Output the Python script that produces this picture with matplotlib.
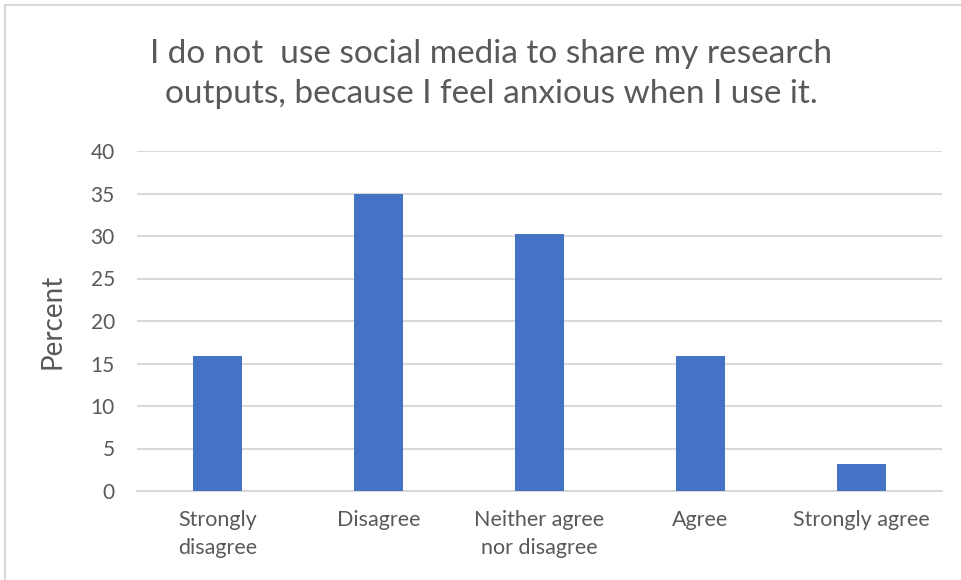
import matplotlib.pyplot as plt
import numpy as np
from matplotlib.patches import Rectangle

plt.rcParams['font.family'] = ['Lato', 'DejaVu Sans']

# Data
categories = ["Strongly\ndisagree", "Disagree", "Neither agree\nnor disagree", "Agree", "Strongly agree"]
percent = [15.9, 34.9, 30.2, 15.9, 3.2]
y_ticks = [0, 5, 10, 15, 20, 25, 30, 35, 40]

title = "I do not  use social media to share my research\noutputs, because I feel anxious when I use it."

text_color = '#595959'
bar_color = '#4472C4'
grid_color = '#d9d9d9'

fig = plt.figure(figsize=(9.61, 5.80), dpi=100)
fig.patch.set_facecolor('white')

# chart frame (partly visible in the reference)
fig.patches.append(Rectangle((5 / 961, -0.1), 1.2, 1 - 5 / 580 + 0.1, transform=fig.transFigure,
                             fill=False, edgecolor='#d9d9d9', linewidth=1.5))

ax = fig.add_axes([137 / 961, 1 - 491 / 580, (942 - 137) / 961, (491 - 151) / 580])

index = np.arange(len(categories))
ax.bar(index, percent, width=0.31, color=bar_color, zorder=3)

ax.set_xlim(-0.5, len(categories) - 0.5)
ax.set_ylim(0, 40)
ax.set_yticks(y_ticks)
ax.set_xticks(index)
ax.set_xticklabels(categories, fontsize=15.5, color=text_color, linespacing=1.45)
ax.tick_params(axis='y', labelsize=15, labelcolor=text_color, length=0, pad=16)
ax.tick_params(axis='x', length=0, pad=14)

ax.yaxis.grid(True, color=grid_color, linewidth=1.5, zorder=0)
for s in ['top', 'right', 'left']:
    ax.spines[s].set_visible(False)
ax.spines['bottom'].set_color(grid_color)
ax.spines['bottom'].set_linewidth(1.5)

ax.set_ylabel("Percent", fontsize=20, color=text_color, labelpad=18)

fig.text(491 / 961, 1 - 74 / 580, title, ha='center', va='center', fontsize=24,
         color=text_color, linespacing=1.45)

plt.savefig("out.png", dpi=100)
